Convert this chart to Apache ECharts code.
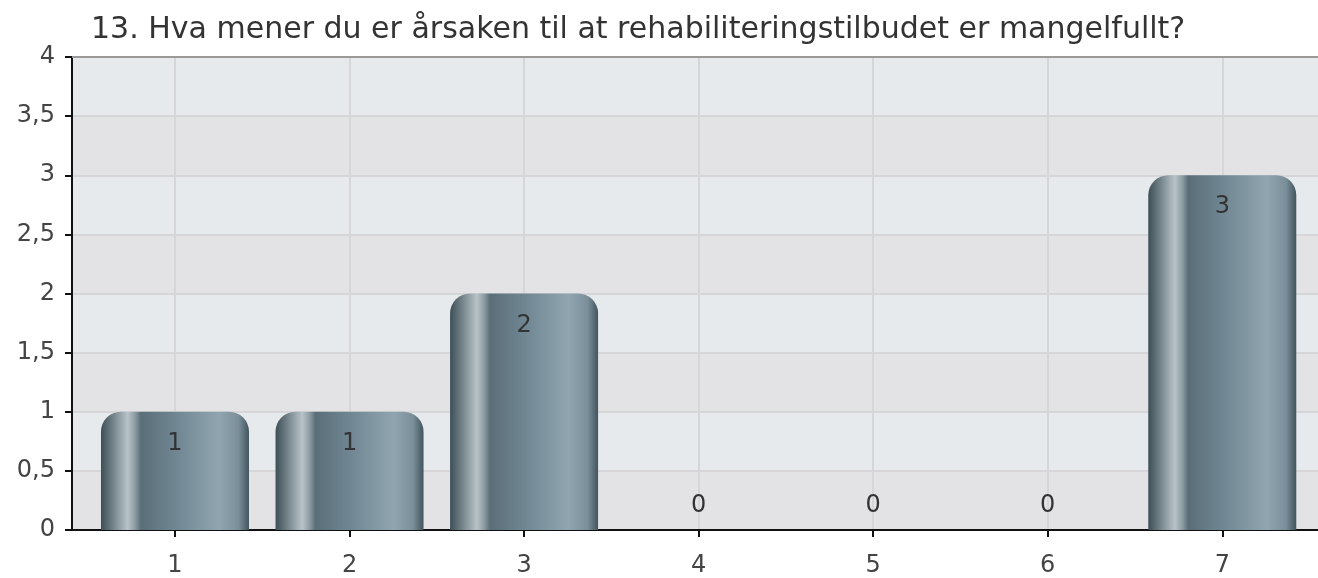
<!DOCTYPE html>
<html>
<head>
<meta charset="utf-8">
<script src="https://cdn.jsdelivr.net/npm/echarts@6/dist/echarts.min.js"></script>
<style>
  html, body { margin: 0; padding: 0; background: #fff; }
  #mychart { width: 1318px; height: 578px; }
</style>
</head>
<body>
<div id="mychart"></div>
<script>
  var titleText = '13. Hva mener du er årsaken til at rehabiliteringstilbudet er mangelfullt?'
  var categories = [1, 2, 3, 4, 5, 6, 7]
  var counts = [1, 1, 2, 0, 0, 0, 3]

  var font = 'DejaVu Sans, Liberation Sans, Arial, sans-serif'

  var barColor = new echarts.graphic.LinearGradient(0, 0, 1, 0, [
    { offset: 0, color: '#3d4e57' },
    { offset: 0.04, color: '#58686f' },
    { offset: 0.12, color: '#8e9ca3' },
    { offset: 0.18, color: '#b8c3c8' },
    { offset: 0.23, color: '#8d9ca3' },
    { offset: 0.27, color: '#5a6e78' },
    { offset: 0.5, color: '#6f8692' },
    { offset: 0.8, color: '#90a5b0' },
    { offset: 0.93, color: '#7a8f9a' },
    { offset: 1, color: '#42545d' }
  ])

  var barData = categories.map(function (c, i) {
    var v = counts[i]
    return {
      value: [c, v],
      label: v === 0
        ? { position: 'top', distance: 12 }
        : { position: 'insideTop', distance: 20 }
    }
  })

  var chart = echarts.init(document.getElementById('mychart'))
  chart.setOption({
    animation: false,
    textStyle: { fontFamily: font },
    title: {
      text: titleText,
      left: 86,
      top: 10,
      textStyle: { fontSize: 30, fontWeight: 'normal', color: '#333', fontFamily: font }
    },
    grid: {
      left: 72,
      top: 57,
      width: 1255,
      height: 473,
      outerBoundsMode: 'none'
    },
    xAxis: [
      {
        type: 'value',
        min: 0.41,
        max: 7.6,
        axisLine: { show: true, lineStyle: { color: '#111', width: 2 } },
        axisTick: { show: true, customValues: categories, length: 7, lineStyle: { color: '#111', width: 2 } },
        axisLabel: { customValues: categories, fontSize: 24, color: '#444', margin: 24 },
        splitLine: { show: true, lineStyle: { color: '#d6d6d8', width: 2 } }
      },
      {
        type: 'value',
        position: 'top',
        min: 0.41,
        max: 7.6,
        axisLine: { show: true, lineStyle: { color: '#9a9a9a', width: 2 } },
        axisTick: { show: false },
        axisLabel: { show: false },
        splitLine: { show: false }
      }
    ],
    yAxis: {
      type: 'value',
      min: 0,
      max: 4,
      interval: 0.5,
      axisLine: { show: true, lineStyle: { color: '#111', width: 2 } },
      axisTick: { show: true, length: 7, lineStyle: { color: '#111', width: 2 } },
      axisLabel: {
        fontSize: 24,
        color: '#444',
        margin: 17,
        formatter: function (v) { return String(v).replace('.', ',') }
      },
      splitLine: { show: true, lineStyle: { color: '#d6d6d8', width: 2 } },
      splitArea: { show: true, areaStyle: { color: ['#e3e3e5', '#e6eaed'] } }
    },
    series: [
      {
        type: 'bar',
        xAxisIndex: 0,
        barWidth: 148,
        itemStyle: { color: barColor, borderRadius: [20, 20, 0, 0] },
        label: { show: true, color: '#333', fontSize: 24 },
        data: barData
      }
    ]
  })
</script>
</body>
</html>
